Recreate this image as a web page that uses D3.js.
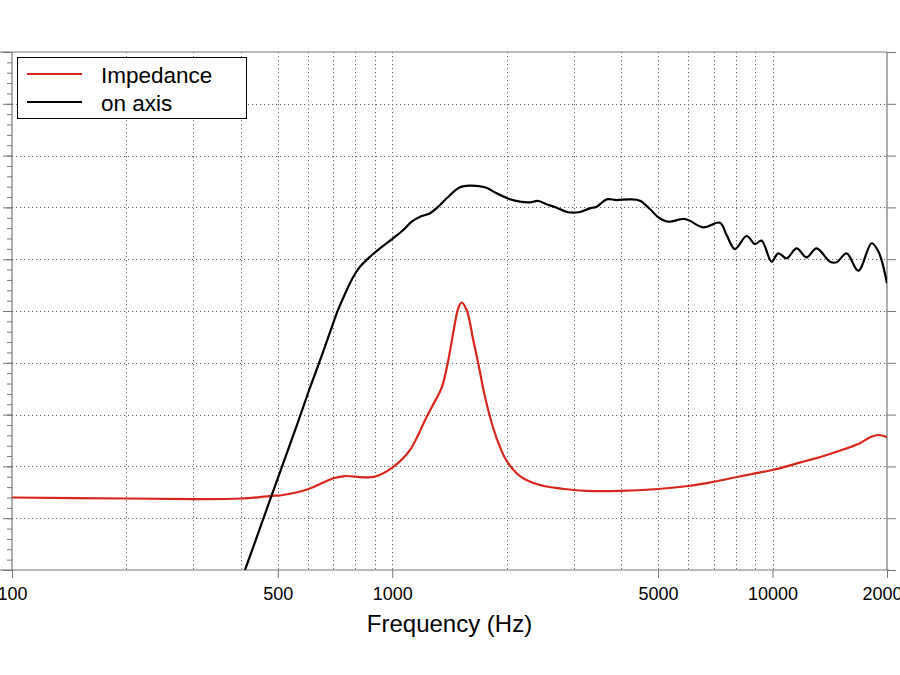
<!DOCTYPE html>
<html>
<head>
<meta charset="utf-8">
<script src="https://cdn.jsdelivr.net/npm/d3@7"></script>
<style>
  body { margin: 0; background: #fff; }
  svg { display: block; font-family: "Liberation Sans", Arial, Helvetica, sans-serif; }
</style>
</head>
<body>
<div id="chart"></div>
<script>
// Impedance curve (Hz, scaled level)
const impFreq = [100, 200, 300, 400, 477, 516, 600, 700, 750, 837, 900, 1004, 1113, 1232, 1279, 1349, 1401, 1462, 1491, 1521, 1569, 1633, 1683, 1753, 1843, 1920, 2000, 2167, 2445, 3000, 3240, 3970, 5000, 6000, 7000, 8000, 9000, 10000, 11800, 14150, 16980, 17960, 19000, 20000];
const impValue = [57.0, 56.9, 56.85, 56.9, 57.14, 57.24, 57.79, 58.85, 59.07, 58.95, 59.01, 59.94, 61.58, 64.8, 65.93, 67.6, 70.1, 73.84, 75.26, 75.82, 75.1, 72.2, 69.95, 66.73, 63.71, 61.87, 60.52, 59.07, 58.2, 57.72, 57.63, 57.63, 57.82, 58.11, 58.52, 58.95, 59.33, 59.65, 60.36, 61.2, 62.23, 62.77, 63.03, 62.81];

// On-axis response (Hz, dB)
const axisFreq = [390, 410, 477, 561, 607, 646, 686, 720, 750, 790, 823, 874, 928, 1005, 1069, 1125, 1183, 1257, 1335, 1390, 1507, 1601, 1753, 1882, 2040, 2167, 2302, 2420, 2547, 2706, 2902, 3117, 3310, 3447, 3663, 3890, 4217, 4481, 4760, 5000, 5319, 5885, 6574, 7272, 7573, 7963, 8550, 8990, 9360, 9945, 10350, 10890, 11570, 12290, 13060, 14160, 14740, 15660, 16810, 18220, 19000, 20000];
const axisValue = [47.9, 50.0, 56.76, 63.95, 67.55, 70.25, 72.95, 75.1, 76.6, 78.31, 79.28, 80.24, 81.05, 82.02, 82.82, 83.62, 84.1, 84.43, 85.23, 85.88, 86.94, 87.1, 86.94, 86.36, 85.78, 85.55, 85.49, 85.62, 85.3, 84.97, 84.53, 84.56, 84.91, 85.07, 85.78, 85.71, 85.78, 85.65, 84.85, 84.07, 83.62, 83.88, 83.08, 83.52, 82.34, 80.98, 82.24, 81.47, 81.79, 79.76, 80.57, 80.09, 81.05, 80.18, 81.05, 79.76, 79.7, 80.57, 78.89, 81.54, 80.72, 77.67];

const xTickLabels = [100, 500, 1000, 5000, 10000, 20000];
const xGrid = [200, 300, 400, 500, 600, 700, 800, 900, 1000, 2000, 3000, 4000, 5000, 6000, 7000, 8000, 9000, 10000];
const yMajor = d3.range(50, 100.1, 5);
const yMinor = d3.range(50, 100.1, 1);

const seriesNames = ["Impedance", "on axis"];
const seriesColors = ["#d8261c", "#000000"];

const width = 900, height = 675;
const plot = { left: 12, right: 887, top: 52, bottom: 570 };

const svg = d3.select("#chart").append("svg")
    .attr("width", width)
    .attr("height", height);

svg.append("rect").attr("width", width).attr("height", height).attr("fill", "#fff");

const x = d3.scaleLog().domain([100, 20000]).range([plot.left, plot.right]);
const y = d3.scaleLinear().domain([50, 100]).range([plot.bottom, plot.top]);

// grid
const grid = svg.append("g")
    .attr("stroke", "#666")
    .attr("stroke-width", 1)
    .attr("stroke-dasharray", "1.2,2.8");

grid.selectAll(".vg").data(xGrid).enter().append("line")
    .attr("x1", d => Math.round(x(d)) + 0.5)
    .attr("x2", d => Math.round(x(d)) + 0.5)
    .attr("y1", plot.top)
    .attr("y2", plot.bottom);

grid.selectAll(".hg").data(yMajor.slice(1, -1)).enter().append("line")
    .attr("x1", plot.left)
    .attr("x2", plot.right)
    .attr("y1", d => Math.round(y(d)) + 0.5)
    .attr("y2", d => Math.round(y(d)) + 0.5);

// axes
const axisColor = "#777";

const xAxis = svg.append("g")
    .attr("transform", `translate(0,${plot.bottom})`)
    .call(d3.axisBottom(x)
        .tickValues(xTickLabels)
        .tickFormat(d3.format("d"))
        .tickSize(8)
        .tickPadding(9));
xAxis.select(".domain").remove();
xAxis.selectAll("line").attr("stroke", axisColor);
xAxis.selectAll("text")
    .attr("font-size", 18)
    .attr("fill", "#000")
    .attr("font-family", "Liberation Sans, Arial, sans-serif");

const yLeftMinor = svg.append("g")
    .attr("transform", `translate(${plot.left},0)`)
    .call(d3.axisLeft(y).tickValues(yMinor).tickSize(5).tickFormat(""));
yLeftMinor.select(".domain").remove();
yLeftMinor.selectAll("line").attr("stroke", axisColor);

const yLeft = svg.append("g")
    .attr("transform", `translate(${plot.left},0)`)
    .call(d3.axisLeft(y).tickValues(yMajor).tickSize(9).tickFormat(""));
yLeft.select(".domain").remove();
yLeft.selectAll("line").attr("stroke", axisColor);

const yRight = svg.append("g")
    .attr("transform", `translate(${plot.right},0)`)
    .call(d3.axisRight(y).tickValues(yMajor).tickSize(9).tickFormat(""));
yRight.select(".domain").remove();
yRight.selectAll("line").attr("stroke", axisColor);

// frame
const frame = svg.append("g").attr("stroke", axisColor).attr("stroke-width", 1.2).attr("fill", "none");
frame.append("line").attr("x1", 0).attr("x2", plot.right).attr("y1", plot.top).attr("y2", plot.top);
frame.append("line").attr("x1", 0).attr("x2", plot.right + 2).attr("y1", plot.bottom).attr("y2", plot.bottom);
frame.append("line").attr("x1", plot.left).attr("x2", plot.left).attr("y1", plot.top).attr("y2", plot.bottom);
frame.append("line").attr("x1", plot.right).attr("x2", plot.right).attr("y1", plot.top).attr("y2", plot.bottom);

// curves
svg.append("clipPath").attr("id", "plot-clip")
    .append("rect")
    .attr("x", plot.left).attr("y", plot.top)
    .attr("width", plot.right - plot.left).attr("height", plot.bottom - plot.top);

const line = d3.line()
    .x(d => x(d[0]))
    .y(d => y(d[1]))
    .curve(d3.curveCatmullRom.alpha(0.5));

const impData = impFreq.map((f, i) => [f, impValue[i]]);
const axisData = axisFreq.map((f, i) => [f, axisValue[i]]);

const curves = svg.append("g").attr("clip-path", "url(#plot-clip)");
curves.append("path")
    .datum(impData)
    .attr("d", line)
    .attr("fill", "none")
    .attr("stroke", seriesColors[0])
    .attr("stroke-width", 2.2);
curves.append("path")
    .datum(axisData)
    .attr("d", line)
    .attr("fill", "none")
    .attr("stroke", seriesColors[1])
    .attr("stroke-width", 2.2);

// axis title
svg.append("text")
    .attr("x", (plot.left + plot.right) / 2)
    .attr("y", 632)
    .attr("text-anchor", "middle")
    .attr("font-size", 24)
    .text("Frequency (Hz)");

// legend
const legend = svg.append("g");
legend.append("rect")
    .attr("x", 17.5).attr("y", 57.5)
    .attr("width", 229).attr("height", 61)
    .attr("fill", "#fff")
    .attr("stroke", "#000")
    .attr("stroke-width", 1);

seriesNames.forEach((name, i) => {
    const ly = 74 + i * 28;
    legend.append("line")
        .attr("x1", 27).attr("x2", 82)
        .attr("y1", ly).attr("y2", ly)
        .attr("stroke", seriesColors[i])
        .attr("stroke-width", 2);
    legend.append("text")
        .attr("x", 101)
        .attr("y", ly + 9)
        .attr("font-size", 22.5)
        .text(name);
});
</script>
</body>
</html>
